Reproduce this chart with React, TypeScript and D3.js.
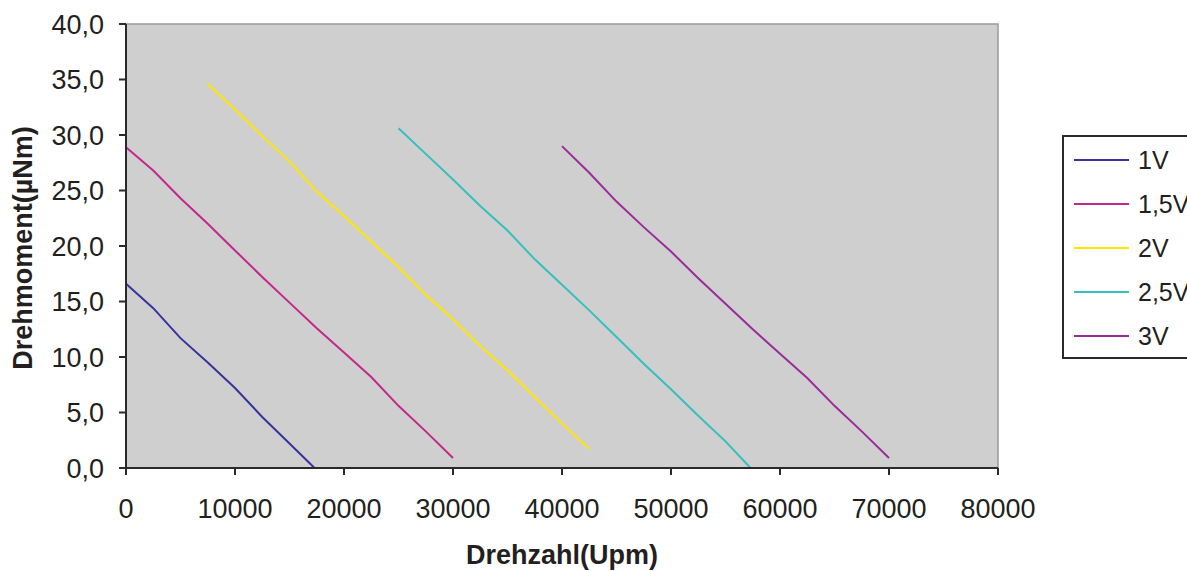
import React from "react";
import * as d3 from "d3";

const seriesNames = ["1V", "1,5V", "2V", "2,5V", "3V"];
const seriesColors = ["#34349c", "#c2288c", "#ffe600", "#35bfbf", "#9a2c9a"];

const rpm1V = [0, 2500, 5000, 7500, 10000, 12500, 15000, 17300];
const torque1V = [16.6, 14.4, 11.7, 9.5, 7.2, 4.6, 2.2, 0];

const rpm15V = [0, 2500, 5000, 7500, 10000, 12500, 15000, 17500, 20000, 22500, 25000, 27500, 30000];
const torque15V = [28.9, 26.8, 24.3, 22.0, 19.6, 17.2, 14.9, 12.6, 10.4, 8.2, 5.6, 3.3, 0.9];

const rpm2V = [7500, 10000, 12500, 15000, 17500, 20000, 22500, 25000, 27500, 30000, 32500, 35000, 37500, 40000, 42500];
const torque2V = [34.6, 32.3, 29.9, 27.6, 24.9, 22.7, 20.4, 18.1, 15.6, 13.4, 11.0, 8.8, 6.4, 4.0, 1.7];

const rpm25V = [25000, 27500, 30000, 32500, 35000, 37500, 40000, 42500, 45000, 47500, 50000, 52500, 55000, 57300];
const torque25V = [30.6, 28.3, 26.0, 23.6, 21.4, 18.8, 16.5, 14.2, 11.8, 9.4, 7.1, 4.7, 2.4, 0];

const rpm3V = [40000, 42500, 45000, 47500, 50000, 52500, 55000, 57500, 60000, 62500, 65000, 67500, 70000];
const torque3V = [29.0, 26.6, 24.0, 21.7, 19.5, 17.1, 14.8, 12.5, 10.3, 8.1, 5.6, 3.3, 0.9];

const xTicks = [0, 10000, 20000, 30000, 40000, 50000, 60000, 70000, 80000];
const yTicks = [0, 5, 10, 15, 20, 25, 30, 35, 40];

const xTitle = "Drehzahl(Upm)";
const yTitle = "Drehmoment(µNm)";

export default function App() {
  const W = 1187, H = 571;
  const left = 126, right = 998, top = 24, bottom = 468;
  const x = d3.scaleLinear().domain([0, 80000]).range([left, right]);
  const y = d3.scaleLinear().domain([0, 40]).range([bottom, top]);
  const line = d3.line<[number, number]>().x(d => x(d[0])).y(d => y(d[1]));
  const rpms = [rpm1V, rpm15V, rpm2V, rpm25V, rpm3V];
  const torques = [torque1V, torque15V, torque2V, torque25V, torque3V];
  const font = "Liberation Sans, Arial, sans-serif";
  const legendY = [160, 204, 248, 292, 336];

  return (
    <svg width={W} height={H} style={{ position: "absolute", left: 0, top: 0 }} fontFamily={font}>
      <rect x={0} y={0} width={W} height={H} fill="#fff" />
      <rect x={left} y={top} width={right - left} height={bottom - top} fill="#cfcfcf" stroke="#9a9a9a" strokeWidth={1.5} />
      {rpms.map((r, i) => (
        <path key={i} d={line(r.map((v, j) => [v, torques[i][j]]) as [number, number][]) || ""}
          fill="none" stroke={seriesColors[i]} strokeWidth={2} />
      ))}
      {/* axes */}
      <line x1={left} x2={left} y1={top} y2={bottom} stroke="#2a2a2a" strokeWidth={2} />
      <line x1={left} x2={right} y1={bottom} y2={bottom} stroke="#2a2a2a" strokeWidth={2} />
      {yTicks.map(t => (
        <g key={t}>
          <line x1={left - 7} x2={left} y1={y(t)} y2={y(t)} stroke="#2a2a2a" strokeWidth={2} />
          <text x={104} y={y(t)} dy="0.36em" textAnchor="end" fontSize={27} fill="#231f20">
            {t.toFixed(1).replace(".", ",")}
          </text>
        </g>
      ))}
      {xTicks.map(t => (
        <g key={t}>
          <line x1={x(t)} x2={x(t)} y1={bottom} y2={bottom + 7} stroke="#2a2a2a" strokeWidth={2} />
          <text x={x(t)} y={518} textAnchor="middle" fontSize={27} fill="#231f20">{t}</text>
        </g>
      ))}
      <text x={562} y={564} textAnchor="middle" fontSize={27} fontWeight="bold" fill="#231f20">{xTitle}</text>
      <text transform={`translate(32,248) rotate(-90)`} textAnchor="middle" fontSize={27} fontWeight="bold" fill="#231f20">{yTitle}</text>
      {/* legend */}
      <rect x={1063} y={136} width={140} height={222} fill="#fff" stroke="#2a2a2a" strokeWidth={2} />
      {seriesNames.map((n, i) => (
        <g key={n}>
          <line x1={1074} x2={1129} y1={legendY[i]} y2={legendY[i]} stroke={seriesColors[i]} strokeWidth={2} />
          <text x={1138} y={legendY[i]} dy="0.36em" fontSize={25} fill="#231f20">{n}</text>
        </g>
      ))}
    </svg>
  );
}
